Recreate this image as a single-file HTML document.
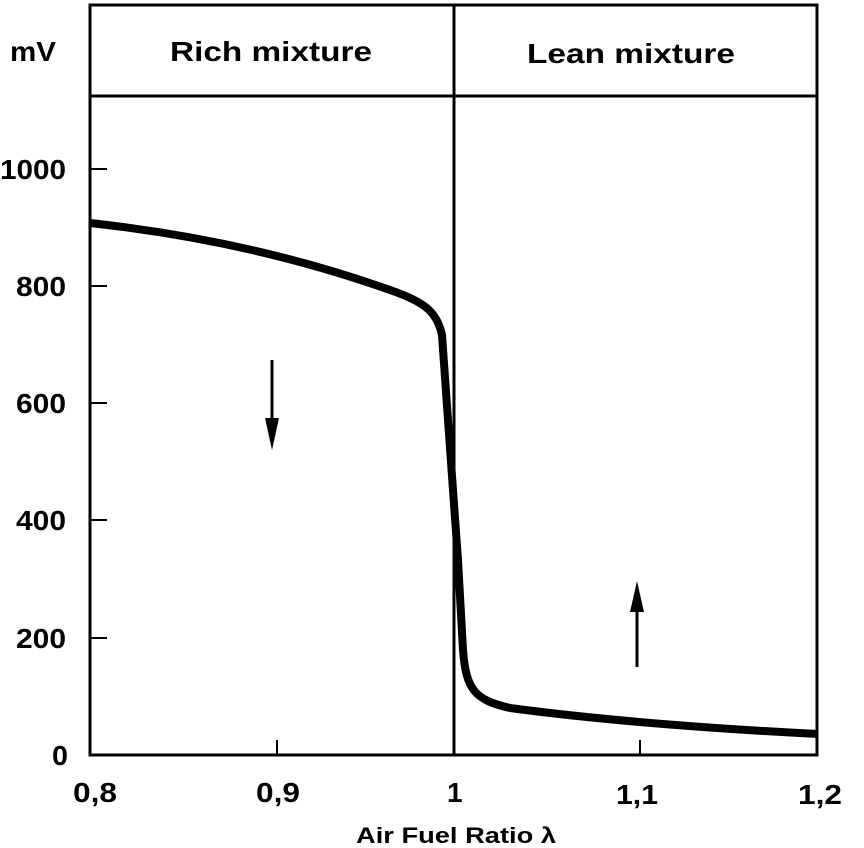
<!DOCTYPE html><html><head><style>body{margin:0;background:#fff}svg{display:block}text{font-family:"Liberation Sans",sans-serif;font-weight:bold;fill:#000}</style></head><body>
<svg width="864" height="848" viewBox="0 0 864 848">
<rect x="90" y="5" width="727" height="750" fill="none" stroke="#000" stroke-width="3"/>
<line x1="90" y1="96" x2="817" y2="96" stroke="#000" stroke-width="3"/>
<line x1="454" y1="5" x2="454" y2="755" stroke="#000" stroke-width="3"/>
<g stroke="#000" stroke-width="2">
<line x1="90" y1="169" x2="107" y2="169"/><line x1="90" y1="286" x2="107" y2="286"/><line x1="90" y1="403" x2="107" y2="403"/><line x1="90" y1="520" x2="107" y2="520"/><line x1="90" y1="638" x2="107" y2="638"/>
<line x1="277" y1="755" x2="277" y2="740"/><line x1="640" y1="755" x2="640" y2="740"/>
</g>
<path d="M90,223 C200,235 300,258 390,290 C425,302 437,312 442,335 L448,420 L458,560 L463,650 C466,690 475,700 510,708 C600,720 700,728 818,734" fill="none" stroke="#000" stroke-width="8" stroke-linejoin="round"/>
<line x1="272" y1="360" x2="272" y2="425" stroke="#000" stroke-width="3"/>
<polygon points="265,418 279,418 272,450" fill="#000"/>
<line x1="637" y1="667" x2="637" y2="605" stroke="#000" stroke-width="3"/>
<polygon points="630,612 644,612 637,581" fill="#000"/>
<g font-size="28">
<text x="170" y="61" textLength="202" lengthAdjust="spacingAndGlyphs">Rich mixture</text>
<text x="527" y="63" textLength="208" lengthAdjust="spacingAndGlyphs">Lean mixture</text>
<text x="10" y="61" textLength="46" lengthAdjust="spacingAndGlyphs">mV</text>
</g>
<g font-size="28">
<text x="0" y="179" textLength="66" lengthAdjust="spacingAndGlyphs">1000</text>
<text x="16" y="296" textLength="50" lengthAdjust="spacingAndGlyphs">800</text>
<text x="16" y="413" textLength="50" lengthAdjust="spacingAndGlyphs">600</text>
<text x="16" y="530" textLength="50" lengthAdjust="spacingAndGlyphs">400</text>
<text x="16" y="648" textLength="50" lengthAdjust="spacingAndGlyphs">200</text>
<text x="52" y="765" textLength="16" lengthAdjust="spacingAndGlyphs">0</text>
</g>
<g font-size="28">
<text x="73" y="802" textLength="44" lengthAdjust="spacingAndGlyphs">0,8</text>
<text x="256" y="802" textLength="44" lengthAdjust="spacingAndGlyphs">0,9</text>
<text x="447" y="802">1</text>
<text x="616" y="804" textLength="42" lengthAdjust="spacingAndGlyphs">1,1</text>
<text x="798" y="804" textLength="44" lengthAdjust="spacingAndGlyphs">1,2</text>
</g>
<text x="356" y="843" font-size="22" textLength="200" lengthAdjust="spacingAndGlyphs">Air Fuel Ratio  λ</text>
</svg></body></html>
